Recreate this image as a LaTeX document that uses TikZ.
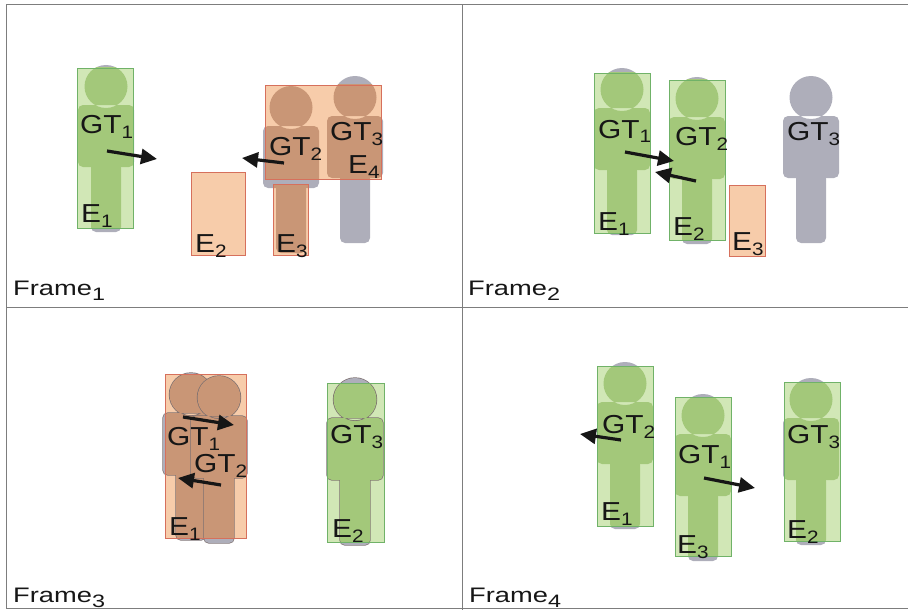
\documentclass[tikz,border=0pt]{standalone}
\usepackage{fontspec}
\setmainfont{Liberation Sans}
\usetikzlibrary{arrows.meta}

\definecolor{gtgray}{RGB}{174,174,186}
\definecolor{greenfill}{RGB}{209,231,182}
\definecolor{greenbody}{RGB}{163,200,122}
\definecolor{greenline}{RGB}{112,178,104}
\definecolor{orangefill}{RGB}{247,204,170}
\definecolor{orangebody}{RGB}{201,150,118}
\definecolor{orangeline}{RGB}{214,112,92}
\definecolor{rimgray}{RGB}{125,112,112}
\definecolor{gridgray}{RGB}{125,125,125}
\definecolor{ink}{RGB}{22,22,22}

% lowered index, label text, frame title
\newcommand\subidx[1]{\raisebox{-5pt}{\fontsize{18}{18}\selectfont #1}}
\newcommand\tag[2]{\scalebox{1.15}[1]{\fontsize{26}{28}\selectfont #1\subidx{#2}}}
\newcommand\frametag[1]{\scalebox{1.3}[1]{\fontsize{21}{24}\selectfont Frame\subidx{#1}}}

% one ground-truth person: centre x, top y, fill colour
\newcommand\gtbody[3]{%
  \path[gtrim] (#1,#2+21.5) circle (21.5)
    [rounded corners=5pt] (#1-28,#2+40) rectangle (#1+28,#2+102)
    (#1-15,#2+98) rectangle (#1+15,#2+167);
  \fill[#3] (#1,#2+21.5) circle (21.5)
    [rounded corners=5pt] (#1-28,#2+40) rectangle (#1+28,#2+102)
    (#1-15,#2+98) rectangle (#1+15,#2+167);
}
% estimate box: corners, green or orange; tints the crowd under it
\newcommand\ebox[5]{%
  \begin{scope}
    \clip (#1,#2) rectangle (#3,#4);
    \fill[#5fill] (#1,#2) rectangle (#3,#4);
    \foreach \cx/\ty in \crowd {\gtbody{\cx}{\ty}{#5body}}
  \end{scope}
  \draw[#5line, line width=0.8pt] (#1,#2) rectangle (#3,#4);
}

\tikzset{
  gtrim/.style={},
  lbl/.style={anchor=base west, inner sep=0pt, text=ink},
  motion/.style={draw=ink, line width=3.2pt, -{Triangle[length=16pt,width=15pt]}},
}

\begin{document}
\begin{tikzpicture}[x=1pt, y=-1pt]
  \useasboundingbox (0,0) rectangle (908,610);

  % grid of the four frames
  \draw[gridgray, line width=1pt] (6,608) -- (6,5) -- (908,5);
  \draw[gridgray, line width=1pt] (462,5) -- (462,610);
  \draw[gridgray, line width=1pt] (6,307) -- (908,307);
  \draw[gridgray, line width=1pt] (6,608) -- (908,608);

  % ---- frame 1
  \def\crowd{106/65, 291/86, 355/76}
  \foreach \cx/\ty in \crowd {\gtbody{\cx}{\ty}{gtgray}}
  \ebox{77}{68}{133}{228}{green}
  \ebox{191}{172}{245}{255}{orange}
  \ebox{273}{184}{308}{255}{orange}
  \ebox{265}{85}{381}{179}{orange}
  \node[lbl] (f1gt1) at (80,133) {\tag{GT}{1}};
  \node[lbl] (f1gt2) at (269,155) {\tag{GT}{2}};
  \node[lbl] (f1gt3) at (330,140) {\tag{GT}{3}};
  \node[lbl] (f1e1) at (81,222) {\tag{E}{1}};
  \node[lbl] (f1e2) at (195,252) {\tag{E}{2}};
  \node[lbl] (f1e3) at (276,252) {\tag{E}{3}};
  \node[lbl] (f1e4) at (348,173) {\tag{E}{4}};
  \draw[motion] (107,151) -- (157,159);
  \draw[motion] (284,163) -- (242,158);
  \node[lbl] (f1name) at (13,295) {\frametag{1}};

  % ---- frame 2
  \def\crowd{622/68, 697/77, 811/76}
  \foreach \cx/\ty in \crowd {\gtbody{\cx}{\ty}{gtgray}}
  \ebox{594}{73}{650}{233}{green}
  \ebox{669}{80}{725}{240}{green}
  \ebox{729}{185}{765}{256}{orange}
  \node[lbl] (f2gt1) at (598,138) {\tag{GT}{1}};
  \node[lbl] (f2gt2) at (675,145) {\tag{GT}{2}};
  \node[lbl] (f2gt3) at (787,140) {\tag{GT}{3}};
  \node[lbl] (f2e1) at (598,230) {\tag{E}{1}};
  \node[lbl] (f2e2) at (673,235) {\tag{E}{2}};
  \node[lbl] (f2e3) at (732,250) {\tag{E}{3}};
  \draw[motion] (625,152) -- (674,161);
  \draw[motion] (696,181) -- (655,172);
  \node[lbl] (f2name) at (468,295) {\frametag{2}};

  % ---- frame 3, outlined figures
  \begin{scope}
    \tikzset{gtrim/.style={draw=rimgray, line width=1.4pt}}
    \def\crowd{191/373, 219/376, 355/378}
    \foreach \cx/\ty in \crowd {\gtbody{\cx}{\ty}{gtgray}}
    \ebox{165}{374}{246}{538}{orange}
    \ebox{327}{383}{384}{542}{green}
  \end{scope}
  \node[lbl] (f3gt1) at (167,445) {\tag{GT}{1}};
  \node[lbl] (f3gt2) at (194,472) {\tag{GT}{2}};
  \node[lbl] (f3gt3) at (330,443) {\tag{GT}{3}};
  \node[lbl] (f3e1) at (169,535) {\tag{E}{1}};
  \node[lbl] (f3e2) at (332,537) {\tag{E}{2}};
  \draw[motion] (183,417) -- (234,425);
  \draw[motion] (221,485) -- (178,478);
  \node[lbl] (f3name) at (13,602) {\frametag{3}};

  % ---- frame 4
  \def\crowd{625/362, 703/394, 811/378}
  \foreach \cx/\ty in \crowd {\gtbody{\cx}{\ty}{gtgray}}
  \ebox{597}{366}{653}{526}{green}
  \ebox{675}{397}{731}{556}{green}
  \ebox{784}{382}{840}{541}{green}
  \node[lbl] (f4gt2) at (602,433) {\tag{GT}{2}};
  \node[lbl] (f4gt1) at (678,463) {\tag{GT}{1}};
  \node[lbl] (f4gt3) at (787,443) {\tag{GT}{3}};
  \node[lbl] (f4e1) at (601,520) {\tag{E}{1}};
  \node[lbl] (f4e3) at (677,553) {\tag{E}{3}};
  \node[lbl] (f4e2) at (787,538) {\tag{E}{2}};
  \draw[motion] (621,440) -- (580,434);
  \draw[motion] (704,478) -- (755,488);
  \node[lbl] (f4name) at (469,602) {\frametag{4}};
\end{tikzpicture}
\end{document}
